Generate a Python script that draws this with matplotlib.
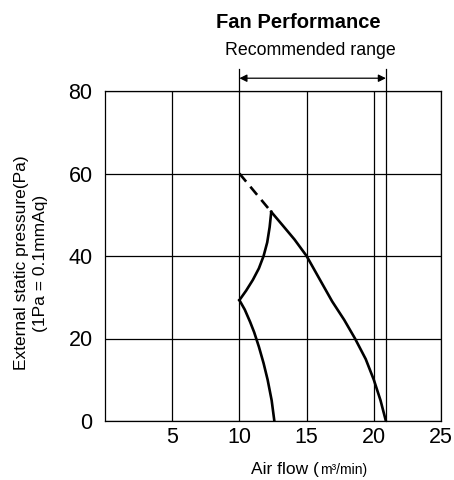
import matplotlib.pyplot as plt
import numpy as np

plt.rcParams['font.family'] = ['Liberation Sans', 'DejaVu Sans']

# max airflow curve (solid part) and its dashed extension
max_flow = [12.37, 13.2, 14.1, 15.0, 16.0, 16.9, 17.8, 18.6, 19.4, 20.0, 20.5, 20.9]
max_pres = [50.7, 47.5, 44.0, 40.0, 34.2, 29.0, 24.5, 20.0, 15.0, 10.0, 5.0, 0.0]
dash_flow = [10.0, 12.37]
dash_pres = [60.0, 50.7]

# min airflow curve: upper branch and lower branch
min_up_flow = [10.0, 10.5, 11.0, 11.45, 11.8, 12.07, 12.25, 12.37]
min_up_pres = [29.3, 31.6, 34.2, 37.0, 40.0, 43.3, 47.0, 50.7]
min_lo_flow = [10.0, 10.4, 10.8, 11.1, 11.45, 11.8, 12.1, 12.4, 12.6]
min_lo_pres = [29.3, 27.0, 24.0, 21.5, 18.0, 14.0, 10.0, 5.0, 0.0]

range_lo = 10.0
range_hi = 20.9

x_ticks = [5, 10, 15, 20, 25]
y_ticks = [0, 20, 40, 60, 80]

fig = plt.figure(figsize=(4.54, 4.8), dpi=100)
ax = fig.add_axes([105 / 454, 1 - 421 / 480, 336 / 454, 330 / 480])

ax.set_xlim(0, 25)
ax.set_ylim(0, 80)
ax.set_xticks(x_ticks)
ax.set_yticks(y_ticks)
ax.tick_params(length=0, labelsize=15.5)
ax.tick_params(axis='x', pad=4)
ax.tick_params(axis='y', pad=9)
for s in ax.spines.values():
    s.set_linewidth(0.9)
ax.grid(True, color='black', lw=0.9)
ax.set_axisbelow(True)

ax.plot(max_flow, max_pres, color='black', lw=1.9)
ax.plot(dash_flow, dash_pres, color='black', lw=1.9, ls=(0, (4, 2.5)))
ax.plot(min_up_flow, min_up_pres, color='black', lw=1.9)
ax.plot(min_lo_flow, min_lo_pres, color='black', lw=1.9)

# recommended range marker
ax.plot([range_hi, range_hi], [0, 85.3], color='black', lw=0.9, clip_on=False)
ax.plot([range_lo, range_lo], [80, 85.3], color='black', lw=0.9, clip_on=False)
ax.annotate('', xy=(range_lo, 83.1), xytext=(range_hi, 83.1),
            arrowprops=dict(arrowstyle='<|-|>', color='black', lw=0.9,
                            mutation_scale=11, shrinkA=0, shrinkB=0),
            annotation_clip=False)
fig.text(310 / 454, 1 - 55 / 480, 'Recommended range', ha='center',
         va='baseline', fontsize=12.8)

fig.text(298 / 454, 1 - 28 / 480, 'Fan Performance', ha='center', va='baseline',
         fontsize=14.5, fontweight='bold')

fig.text(31 / 454, 1 - 263 / 480, 'External static pressure(Pa)\n(1Pa = 0.1mmAq)',
         rotation=90, ha='center', va='center', fontsize=12.5, linespacing=1.25)
fig.text(319 / 454, 1 - 474 / 480, 'Air flow (', ha='right', va='baseline', fontsize=12.5)
fig.text(320 / 454, 1 - 474 / 480, 'm³/min)', ha='left', va='baseline', fontsize=10)

fig.savefig('out.png', dpi=100)
